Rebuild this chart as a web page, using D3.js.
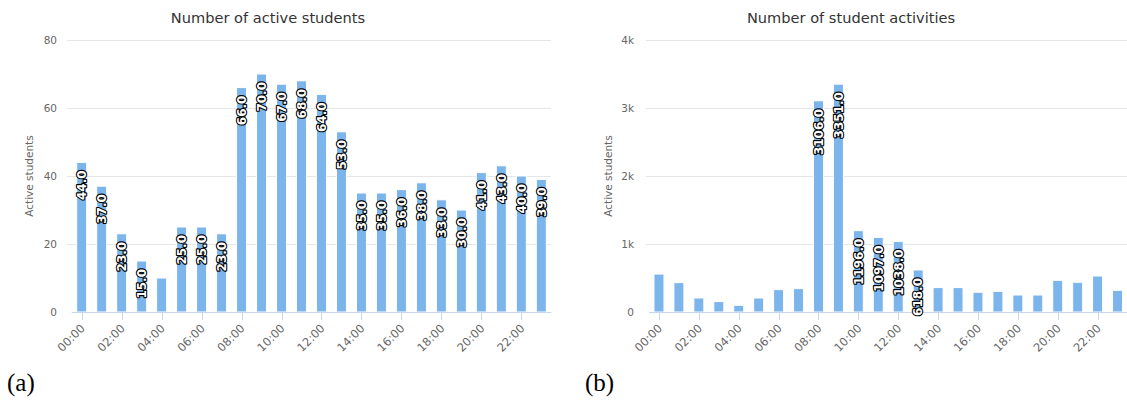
<!DOCTYPE html>
<html>
<head>
<meta charset="utf-8">
<script src="https://cdn.jsdelivr.net/npm/d3@7/dist/d3.min.js"></script>
<style>
  html, body { margin: 0; padding: 0; background: #fff; }
  svg { display: block; font-family: "DejaVu Sans", "Lucida Grande", Arial, sans-serif; }
  .tag { font-family: "Liberation Serif", "DejaVu Serif", serif; }
</style>
</head>
<body>
<svg id="fig" width="1127" height="405"></svg>
<script>
// Hour-of-day categories shared by both panels
const hours = ["00:00","01:00","02:00","03:00","04:00","05:00","06:00","07:00",
               "08:00","09:00","10:00","11:00","12:00","13:00","14:00","15:00",
               "16:00","17:00","18:00","19:00","20:00","21:00","22:00","23:00"];
const hourTicks = ["00:00","02:00","04:00","06:00","08:00","10:00","12:00","14:00","16:00","18:00","20:00","22:00"];

// Panel (a): active students per hour
const activeStudents = [44, 37, 23, 15, 10, 25, 25, 23, 66, 70, 67, 68,
                        64, 53, 35, 35, 36, 38, 33, 30, 41, 43, 40, 39];
const activeTicks = [0, 20, 40, 60, 80];

// Panel (b): student activities per hour
const studentActivities = [558, 432, 206, 153, 98, 206, 329, 344, 3106, 3351, 1196, 1097,
                           1038, 618, 359, 359, 290, 304, 250, 250, 466, 437, 529, 319];
const activityTicks = [0, 1000, 2000, 3000, 4000];

const svg = d3.select("#fig");

function drawPanel(opt) {
  const g = svg.append("g");
  const x = d3.scaleBand().domain(hours).range(opt.xRange).paddingInner(0).paddingOuter(0);
  const y = d3.scaleLinear().domain([0, d3.max(opt.ticks)]).range([312, 40]);

  // title
  g.append("text")
    .attr("x", opt.titleX).attr("y", 23)
    .attr("text-anchor", "middle")
    .attr("font-size", 14.6).attr("fill", "#333333")
    .text(opt.title);

  // horizontal grid lines
  g.append("g").selectAll("line")
    .data(opt.ticks.filter(t => t > 0))
    .join("line")
    .attr("x1", opt.gridX[0]).attr("x2", opt.gridX[1])
    .attr("y1", d => Math.round(y(d)) + 0.5).attr("y2", d => Math.round(y(d)) + 0.5)
    .attr("stroke", "#e6e6e6").attr("stroke-width", 1);

  // y axis labels
  g.append("g").selectAll("text")
    .data(opt.ticks)
    .join("text")
    .attr("x", opt.yLabelX).attr("y", d => y(d))
    .attr("dy", "0.35em")
    .attr("text-anchor", "end")
    .attr("font-size", 10.5).attr("fill", "#666666")
    .text(opt.tickFormat);

  // y axis title
  g.append("text")
    .attr("transform", `translate(${opt.yTitleX},176) rotate(-90)`)
    .attr("text-anchor", "middle")
    .attr("font-size", 10.5).attr("fill", "#666666")
    .text("Active students");

  // bars
  const bw = 10;
  g.append("g").selectAll("rect")
    .data(opt.values)
    .join("rect")
    .attr("x", (d, i) => x(hours[i]) + x.bandwidth() / 2 - bw / 2)
    .attr("y", d => y(d))
    .attr("width", bw)
    .attr("height", d => y(0) - y(d))
    .attr("fill", "#7cb5ec")
    .attr("stroke", "#ffffff").attr("stroke-width", 1);

  // x axis line and ticks
  const xa = g.append("g").attr("transform", "translate(0,312)");
  xa.append("line")
    .attr("x1", opt.xRange[0]).attr("x2", opt.xRange[1])
    .attr("y1", 0.5).attr("y2", 0.5)
    .attr("stroke", "#ccd6eb");
  xa.selectAll("line.tick")
    .data(hourTicks)
    .join("line").attr("class", "tick")
    .attr("x1", d => Math.round(x(d) + x.bandwidth() / 2) + 0.5)
    .attr("x2", d => Math.round(x(d) + x.bandwidth() / 2) + 0.5)
    .attr("y1", 0).attr("y2", 8)
    .attr("stroke", "#ccd6eb");
  xa.selectAll("text")
    .data(hourTicks)
    .join("text")
    .attr("transform", d => `translate(${x(d) + x.bandwidth() / 2 + 4},${17}) rotate(-45)`)
    .attr("text-anchor", "end")
    .attr("font-size", 11.5).attr("fill", "#666666")
    .text(d => d);

  // value labels inside the tall bars
  g.append("g").selectAll("text")
    .data(opt.values.map((v, i) => ({ v, i })).filter(d => y(0) - y(d.v) >= 40))
    .join("text")
    .attr("transform", d => `translate(${x(hours[d.i]) + x.bandwidth() / 2},${y(d.v) + 8}) rotate(-90)`)
    .attr("dy", "0.36em")
    .attr("text-anchor", "end")
    .attr("font-size", 12).attr("font-weight", "bold")
    .attr("fill", "#ffffff")
    .attr("stroke", "#000000").attr("stroke-width", 2.2)
    .attr("stroke-linejoin", "round")
    .attr("paint-order", "stroke")
    .text(d => d.v.toFixed(1));

  // panel tag
  svg.append("text")
    .attr("class", "tag")
    .attr("x", opt.tagX).attr("y", 391)
    .attr("font-size", 25).attr("fill", "#000")
    .text(opt.tag);
}

drawPanel({
  title: "Number of active students",
  titleX: 268,
  values: activeStudents,
  ticks: activeTicks,
  tickFormat: d => String(d),
  xRange: [71.7, 551.3],
  gridX: [67, 551],
  yLabelX: 57,
  yTitleX: 33,
  tag: "(a)",
  tagX: 7
});

drawPanel({
  title: "Number of student activities",
  titleX: 851,
  values: studentActivities,
  ticks: activityTicks,
  tickFormat: d => d === 0 ? "0" : (d / 1000) + "k",
  xRange: [649, 1127.5],
  gridX: [646, 1127],
  yLabelX: 634,
  yTitleX: 612,
  tag: "(b)",
  tagX: 585
});
</script>
</body>
</html>
